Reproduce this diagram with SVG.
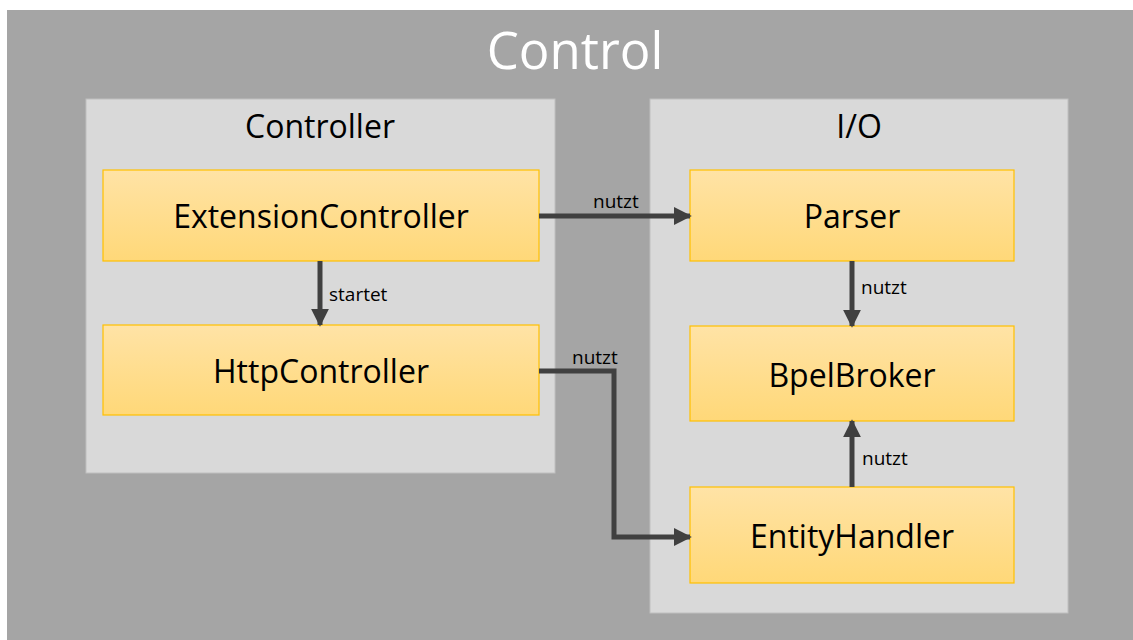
<svg xmlns="http://www.w3.org/2000/svg" width="1133" height="640" viewBox="0 0 1133 640">
  <defs>
    <linearGradient id="nodeFill" x1="0" y1="0" x2="0" y2="1">
      <stop offset="0" stop-color="#FFE3A6"/>
      <stop offset="1" stop-color="#FFD878"/>
    </linearGradient>
    <marker id="arrow" viewBox="0 0 10 10" refX="9" refY="5" markerWidth="3.6" markerHeight="3.6" markerUnits="strokeWidth" orient="auto">
      <path d="M0,0 L10,5 L0,10 z" fill="#404040"/>
    </marker>
  </defs>
  <style>
    .panel { fill: #D9D9D9; stroke: #BFBFBF; stroke-width: 1; }
    .node rect { fill: url(#nodeFill); stroke: #FFC000; stroke-width: 1.2; }
    .node text { font-family: "Open Sans", "Liberation Sans", sans-serif; font-size: 32px; fill: #000; text-anchor: middle; }
    .ptitle { font-family: "Open Sans", "Liberation Sans", sans-serif; font-size: 32px; fill: #000; text-anchor: middle; }
    .conn { fill: none; stroke: #404040; stroke-width: 5; marker-end: url(#arrow); }
    .lbl { font-family: "Open Sans", "Liberation Sans", sans-serif; font-size: 19px; fill: #000; }
  </style>

  <rect x="0" y="0" width="1133" height="640" fill="#FFFFFF"/>
  <rect x="7" y="10" width="1126" height="630" fill="#A5A5A5"/>
  <text x="575" y="69" font-family="'Open Sans', 'Liberation Sans', sans-serif" font-size="51" fill="#FFFFFF" text-anchor="middle">Control</text>

  <g id="panel-controller">
    <rect class="panel" x="86" y="99" width="469" height="374"/>
    <text class="ptitle" x="320" y="138">Controller</text>
  </g>
  <g id="panel-io">
    <rect class="panel" x="650" y="99" width="418" height="514"/>
    <text class="ptitle" x="859" y="138">I/O</text>
  </g>

  <g id="node-extensioncontroller" class="node">
    <rect x="103" y="170" width="436" height="91"/>
    <text x="321" y="228">ExtensionController</text>
  </g>
  <g id="node-httpcontroller" class="node">
    <rect x="103" y="325" width="436" height="90"/>
    <text x="321" y="383">HttpController</text>
  </g>
  <g id="node-parser" class="node">
    <rect x="690" y="170" width="324" height="91"/>
    <text x="852" y="228">Parser</text>
  </g>
  <g id="node-bpelbroker" class="node">
    <rect x="690" y="326" width="324" height="95"/>
    <text x="852" y="387">BpelBroker</text>
  </g>
  <g id="node-entityhandler" class="node">
    <rect x="690" y="487" width="324" height="96"/>
    <text x="852" y="548">EntityHandler</text>
  </g>

  <g id="connectors">
    <path class="conn" d="M539,216 L690,216"/>
    <text class="lbl" x="593" y="208">nutzt</text>
    <path class="conn" d="M320,261 L320,325"/>
    <text class="lbl" x="329" y="301">startet</text>
    <path class="conn" d="M852,261 L852,326"/>
    <text class="lbl" x="861" y="294">nutzt</text>
    <path class="conn" d="M852,487 L852,421"/>
    <text class="lbl" x="862" y="465">nutzt</text>
    <path class="conn" d="M539,371 L614,371 L614,537 L690,537"/>
    <text class="lbl" x="572" y="364">nutzt</text>
  </g>
</svg>
